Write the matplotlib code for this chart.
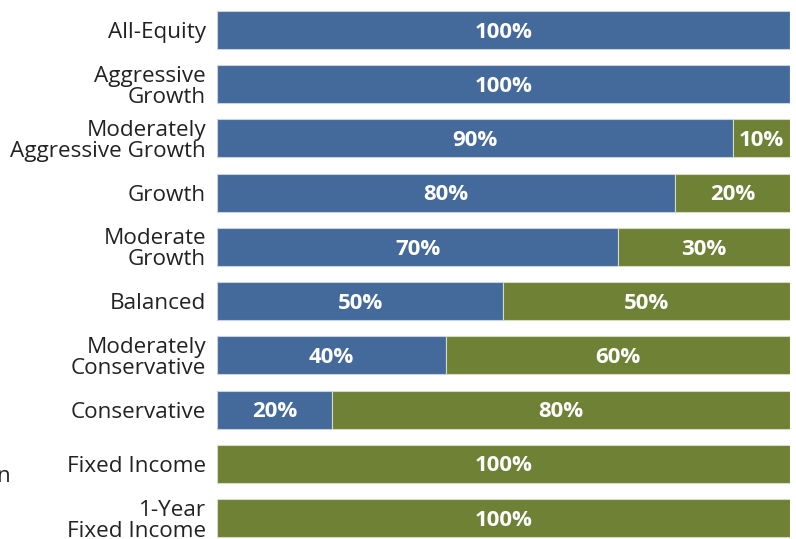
import matplotlib.pyplot as plt

plt.rcParams['font.family'] = ['Open Sans', 'DejaVu Sans']

# portfolio names and equity / fixed income split (%)
portfolios = ['All-Equity', 'Aggressive\nGrowth', 'Moderately\nAggressive Growth', 'Growth',
              'Moderate\nGrowth', 'Balanced', 'Moderately\nConservative', 'Conservative',
              'Fixed Income', '1-Year\nFixed Income']
equity = [100, 100, 90, 80, 70, 50, 40, 20, 0, 0]
fixed_income = [0, 0, 10, 20, 30, 50, 60, 80, 100, 100]

blue = '#44699b'
green = '#6e8135'

fig = plt.figure(figsize=(7.96, 5.39), dpi=100)
ax = fig.add_axes([217 / 796, 0, (790 - 217) / 796, 1])

y = list(range(len(portfolios)))
ax.barh(y, equity, height=0.7, color=blue, edgecolor='#c9d3e0', linewidth=0.8)
ax.barh(y, fixed_income, left=equity, height=0.7, color=green, edgecolor='#d5dcc4', linewidth=0.8)

for i in y:
    if equity[i] > 0:
        ax.text(equity[i] / 2, i + 0.04, f'{equity[i]}%', ha='center', va='center',
                color='white', fontsize=16, fontweight='bold')
    if fixed_income[i] > 0:
        ax.text(equity[i] + fixed_income[i] / 2, i + 0.04, f'{fixed_income[i]}%', ha='center',
                va='center', color='white', fontsize=16, fontweight='bold')

ax.set_xlim(0, 100)
ax.set_ylim(9.387, -0.553)
ax.set_yticks(y)
ax.set_yticklabels(portfolios, fontsize=16.2, color='#222222', linespacing=1.0)
ax.tick_params(axis='y', length=0, pad=8)
ax.set_xticks([])
for s in ax.spines.values():
    s.set_visible(False)

# cut-off text fragment at far left
fig.text(10 / 796, 1 - 477 / 539, 'n', ha='right', va='center', fontsize=16.2, color='#222222')

fig.savefig('out.png', dpi=100)
